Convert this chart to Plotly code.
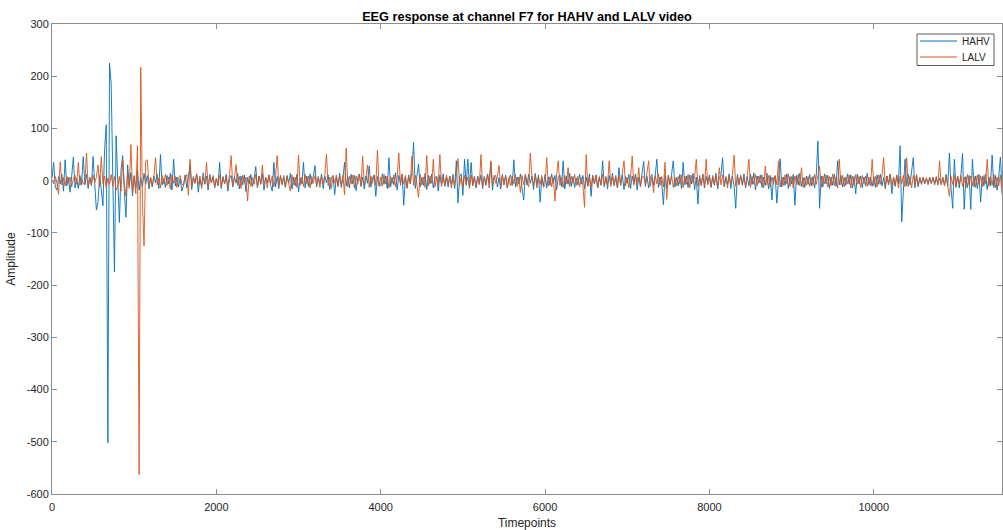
import numpy as np
import plotly.graph_objects as go

STEP = 20  # timepoints between listed samples

hahv_rows = [
    [5, 35, -12, -18, 8, -6, 12, -20, 40, -10, 6, -22, 9, 45, -14, 4, -15, 10, -8, 46],
    [-8, 12, -15, 6, -10, 46, -5, -56, -40, 10, -18, -48, 60, 107, -502, 225, 186, -40, -175, 86],
    [-20, -80, 20, 48, -20, -70, 30, -10, 15, -29, 8, -14, 20, -18, 5, -12, 14, -6, 10, -16],
    [6, -12, 9, -4, 12, -15, 50, -8, 4, -13, 10, -6, 14, -18, 41, -10, 7, -12, 5, -20],
    [-9, 11, -14, 6, 30, -17, 8, -5, 13, -22, 4, -10, 15, -7, 9, -18, 12, -4, 7, -13],
    [5, -10, 35, -15, 8, -6, 12, -20, 4, 10, -12, 7, -5, 14, -16, 9, -8, 11, -21, 6],
    [-6, 12, -11, 5, 27, -14, 9, -7, 13, -18, 6, -4, 11, -9, -20, 35, -12, 8, -15, 10],
    [-8, 6, -13, 10, -5, 14, -16, 7, -10, 12, -21, 5, -6, 35, -14, 9, -11, 13, -7, 8],
    [29, -12, 8, -6, 13, -15, 9, -4, 11, -17, 6, 10, -27, 7, -9, 14, -13, 5, 35, -10],
    [8, -14, 12, -6, 10, -19, 5, 13, -11, 7, -16, 9, -5, 28, -12, 6, 11, -30, 8, -9],
    [-10, 13, -7, 9, -15, 44, -12, 6, -8, 15, -18, 10, -5, 12, -47, 7, -13, 11, -6, 16],
    [73, -15, 8, 32, -12, 6, -9, 14, -17, 10, -6, 12, -14, 5, 9, -20, 11, -7, 13, -11],
    [6, -12, 9, -7, 12, -15, 38, -43, 8, 13, -28, 41, -9, 41, -13, 35, -10, 7, -14, 9],
    [-6, 11, -15, 8, -9, 13, -5, 35, -18, 7, 10, -12, 6, -16, 12, -8, 9, -14, 5, 11],
    [-9, 40, -12, 7, -6, 13, -15, -37, 10, -8, 12, -5, 9, -17, 14, -7, 11, -41, 6, -10],
    [12, -14, 7, -9, 13, -5, 10, -18, 6, 11, -12, 38, -16, 9, -7, 14, -11, 8, -13, 5],
    [-8, 12, -6, 10, -15, 7, -11, 13, -30, 9, -5, 11, -14, 6, -9, 38, -12, 8, -16, 10],
    [-7, 14, -10, 6, -13, 25, -9, 11, -17, 8, -5, 12, -15, 9, -6, 13, -18, 7, -10, 15],
    [37, -11, 8, -14, 6, 12, -9, 10, 41, -13, 7, -6, -46, 11, -15, 9, -8, 13, 38, -12],
    [6, -10, 12, -15, 35, -8, 9, -13, 11, -6, 14, -17, 7, -45, 10, -9, 12, -14, 8, -5],
    [11, -13, 7, -9, 14, -16, 6, 10, 44, -12, 8, -7, 13, -15, 9, -10, -53, 12, -8, 10],
    [-6, 13, -14, 8, -10, 12, -7, 15, -18, 9, -5, 11, -13, 7, -9, 14, -16, 10, -37, 6],
    [9, -43, 11, 42, -12, 7, -9, 13, -15, 8, -6, 12, -47, 10, -8, 14, -11, 6, -13, 9],
    [-7, 12, -10, 8, -14, 11, 76, -53, 9, -12, 13, -6, 10, -15, 7, -9, 12, -11, 38, -8],
    [10, -12, 6, -9, 13, -7, 11, -14, 8, -25, 12, -6, 9, -13, 7, -10, 14, -8, 6, -11],
    [8, -13, 11, -7, 12, -10, 6, -15, 9, -8, 13, -25, 7, -11, 10, -6, 67, -79, -20, 41],
    [-10, 12, -8, 15, 44, -14, 9, -12, 6, -7, 5, -6, 4, -5, 7, -4, 6, -8, 5, -6],
    [5, -7, 6, -9, 12, -10, 53, -15, -53, 41, -12, 9, -14, 11, 52, -55, 8, -13, 10, -55],
    [41, -12, 9, -15, 12, -41, 8, -10, 13, -17, 7, -9, 49, -13, 10, -18, 6, 45, -12, 8],
]

lalv_rows = [
    [2, -6, 8, -4, -26, 36, -8, 6, -10, 9, -5, 7, -12, 4, 10, -7, 35, -9, 5, -6],
    [-5, 53, -10, 6, -8, 11, -4, 7, 30, -12, 46, -6, 9, -14, 5, -7, 12, -10, 8, -18],
    [-12, 8, -20, 40, -6, -30, 12, -15, 69, -20, 10, -25, 67, -563, 217, -40, -125, 38, 40, -10],
    [6, -12, 9, 44, -8, 5, -14, 10, -6, 12, -9, 7, -16, 11, -5, 8, -13, 6, 10, -7],
    [-9, 7, 12, -28, 41, -10, 6, -5, 13, -8, 9, -15, 7, -6, 35, -11, 8, -4, 10, -13],
    [5, -8, 11, -12, 7, -6, 9, -14, 12, 48, -10, 6, 31, -9, 8, -15, 10, -5, 7, -39],
    [9, -11, 6, -7, 12, -13, 8, -5, 30, -10, 7, -14, 11, -6, 9, -12, 6, 48, -9, 8],
    [-7, 10, -12, 8, -5, -20, 11, -8, 6, -13, 49, -9, 7, -11, 12, -6, 9, -14, 8, -5],
    [10, -9, 6, -13, 8, -6, 12, 51, -10, 7, -15, 9, -5, 11, -12, 8, -7, 10, -27, 62],
    [-12, 8, -6, 11, -14, 9, -7, 12, -10, 47, -8, 6, 30, -13, 9, -5, 11, -9, 58, -11],
    [7, -10, 12, -6, 9, -14, 8, -5, 11, -12, 6, 53, -9, 13, -7, 10, -15, 8, -6, 47],
    [-9, 10, -6, -32, 12, -8, 7, -13, 48, -10, 9, -5, 41, -12, 8, -7, 50, -11, 6, -9],
    [11, -7, 9, -14, 6, -10, 12, 42, -9, 8, -13, 10, -6, 7, -15, 11, -8, 9, -12, 6],
    [-8, 50, -11, 7, -6, 12, -14, 38, -9, 10, -5, 8, 29, -12, 9, -7, 11, -13, 6, -10],
    [9, -6, 12, -11, 7, -23, 10, -8, 13, -5, -12, 53, 8, -9, 11, -14, 6, -7, 10, -13],
    [-7, 44, -10, 8, -12, 6, -39, 11, 38, -9, 7, -13, 10, -6, 25, -11, 8, -5, 12, -9],
    [8, -12, 6, -9, -51, 50, -10, 7, -13, 11, -6, 9, -14, 8, -7, 12, -10, 6, -8, 38],
    [-11, 7, -6, 10, -14, 9, -8, 12, 38, -10, 6, -13, 8, 47, -9, 11, -7, 25, -12, 6],
    [9, -8, 12, 38, -11, 7, -23, 10, -6, 13, -9, 8, -12, 35, -36, 11, -7, 9, -13, 6],
    [-10, 8, -6, 11, -13, 9, -7, 12, -14, 10, -5, 8, 41, -11, 7, -9, 12, -12, 41, -8],
    [7, -12, 10, -6, 9, -13, 25, -8, 11, -10, 6, -14, 9, -7, 12, 49, -11, 8, -6, 10],
    [-9, 6, -11, 10, 41, -13, 8, -7, 12, -10, 9, -5, 11, -14, 28, -8, 10, -12, 7, -6],
    [10, -8, 38, -12, 7, -9, 11, -6, 13, -11, 8, -14, 9, -7, 12, -10, 25, -13, 6, -9],
    [8, -11, 6, -9, 12, -7, 10, 28, -13, 9, -6, 11, -12, 8, -10, 13, -9, 7, -14, 41],
    [-8, 10, -12, 7, -6, 11, -14, 9, -9, 12, -7, 8, -13, 10, -6, 9, -11, 7, -10, 41],
    [-9, 8, -12, 11, -7, 10, 44, -13, 9, -6, 12, -10, 7, -8, 11, -14, 9, -6, 10, -12],
    [44, -11, 8, -14, 10, -7, 12, -9, 6, -5, 7, -4, 6, -8, 5, -6, 7, -5, 8, -9],
    [38, -8, 6, -10, 9, -12, -30, 8, -7, 11, -13, 9, -6, 10, -11, 7, -14, 12, -8, 9],
    [-10, 8, -13, 11, -7, 9, -12, 10, -6, 41, -11, 8, -9, 12, -14, 7, -10, 11, -25, -20],
]

series_names = ["HAHV", "LALV"]
series_colors = ["#0072BD", "#D95319"]
x_ticks = [0, 2000, 4000, 6000, 8000, 10000]
y_ticks = [-600, -500, -400, -300, -200, -100, 0, 100, 200, 300]

hahv = [v for row in hahv_rows for v in row]
lalv = [v for row in lalv_rows for v in row]
t_h = np.arange(len(hahv)) * STEP
t_l = np.arange(len(lalv)) * STEP

FONT = "Liberation Sans, Arial, sans-serif"
AX = "#262626"
W, H = 1003, 530
ML, MR, MT, MB = 52, 1, 24, 36
PW, PH = W - ML - MR, H - MT - MB


def px(x):
    return (x - ML) / PW


def py(y):
    return 1 - (y - MT) / PH


fig = go.Figure()
fig.add_trace(go.Scatter(x=t_h, y=hahv, mode="lines", name=series_names[0],
                         line=dict(color=series_colors[0], width=0.9), showlegend=False))
fig.add_trace(go.Scatter(x=t_l, y=lalv, mode="lines", name=series_names[1],
                         line=dict(color=series_colors[1], width=0.9), showlegend=False))

axis_common = dict(showgrid=False, zeroline=False, showline=True, mirror="ticks",
                   linecolor="#8c8c8c", linewidth=1, ticks="inside", ticklen=5,
                   tickcolor="#8c8c8c", tickfont=dict(family=FONT, size=11, color=AX))

# manual MATLAB-style legend: box as a shape, samples on an invisible overlay axis
shapes = [dict(type="rect", xref="paper", yref="paper",
               x0=px(917), x1=px(994), y0=py(34), y1=py(65.5),
               line=dict(color="#5a5a5a", width=1), fillcolor="white", layer="below")]
annotations = []
for i, (nm, col) in enumerate(zip(series_names, series_colors)):
    yy = 41 + i * 16
    fig.add_trace(go.Scatter(x=[px(920), px(957)], y=[py(yy), py(yy)], mode="lines",
                             line=dict(color=col, width=1), xaxis="x2", yaxis="y2",
                             showlegend=False, hoverinfo="skip"))
    annotations.append(dict(text=nm, xref="paper", yref="paper", x=px(960), y=py(yy),
                            xanchor="left", yanchor="middle", showarrow=False,
                            font=dict(family=FONT, size=10, color=AX)))

fig.update_layout(
    width=W, height=H,
    margin=dict(l=ML, r=MR, t=MT, b=MB),
    paper_bgcolor="white", plot_bgcolor="white",
    title=dict(text="<b>EEG response at channel F7 for HAHV and LALV video</b>",
               x=0.5, xref="paper", y=1, yref="paper", yanchor="bottom", pad=dict(b=3),
               font=dict(family=FONT, size=12.7, color="black")),
    xaxis=dict(range=[0, 11560], tickvals=x_ticks, ticktext=[str(v) for v in x_ticks],
               ticklabelstandoff=3,
               title=dict(text="Timepoints", standoff=6,
                          font=dict(family=FONT, size=12, color=AX)),
               **axis_common),
    yaxis=dict(range=[-600, 300], tickvals=y_ticks, ticktext=[str(v) for v in y_ticks],
               title=dict(text="Amplitude", standoff=8,
                          font=dict(family=FONT, size=12, color=AX)),
               **axis_common),
    xaxis2=dict(overlaying="x", range=[0, 1], visible=False, fixedrange=True),
    yaxis2=dict(overlaying="y", range=[0, 1], visible=False, fixedrange=True),
    shapes=shapes,
    annotations=annotations,
    showlegend=False,
)

fig.write_html("out.html")
